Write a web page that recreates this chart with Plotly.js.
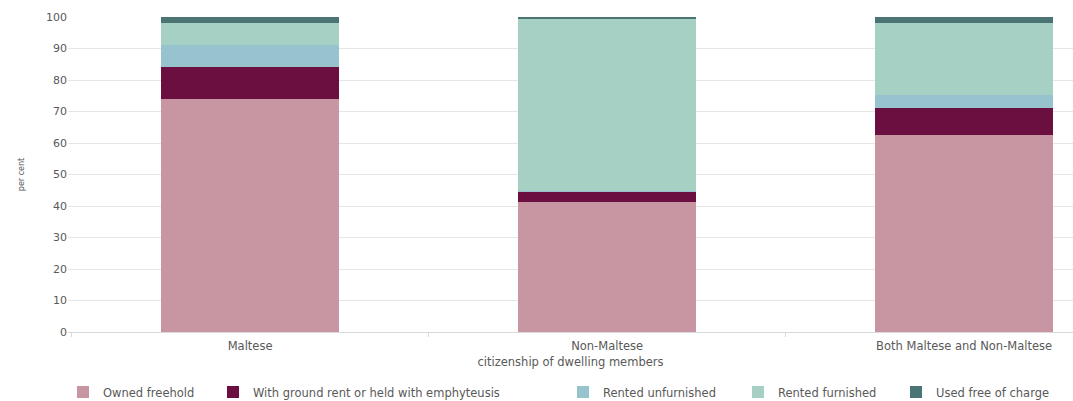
<!DOCTYPE html>
<html><head><meta charset="utf-8">
<script src="https://cdn.plot.ly/plotly-3.0.1.min.js"></script>
<style>html,body{margin:0;padding:0;background:#fff}#c{width:1073px;height:401px}</style>
</head><body><div id="c"></div>
<script>
const categories = ["Maltese", "Non-Maltese", "Both Maltese and Non-Maltese"];
const seriesNames = ["Owned freehold", "With ground rent or held with emphyteusis", "Rented unfurnished", "Rented furnished", "Used free of charge"];
const ownedFreehold = [74.0, 41.3, 62.4];
const groundRent = [10.2, 3.1, 8.8];
const rentedUnfurnished = [6.9, 0.3, 3.9];
const rentedFurnished = [6.9, 54.6, 23.0];
const usedFree = [2.0, 0.7, 1.9];
const yTicks = [0, 10, 20, 30, 40, 50, 60, 70, 80, 90, 100];

const values = [ownedFreehold, groundRent, rentedUnfurnished, rentedFurnished, usedFree];
const colors = ["#C896A3", "#6B0F40", "#96C3CD", "#A6D0C4", "#4B7474"];
const legendNames = ["legend", "legend2", "legend3", "legend4", "legend5"];
const legendX = [63, 213, 563, 738, 896];

const FONT = "DejaVu Sans, sans-serif";
const traces = values.map((v, i) => ({
  type: "bar", x: categories, y: v, name: seriesNames[i],
  marker: {color: colors[i], line: {width: 0}},
  width: 0.5, legend: legendNames[i], hoverinfo: "y+name"
}));

const layout = {
  width: 1073, height: 401,
  margin: {l: 68, r: 0, t: 17, b: 69},
  barmode: "stack",
  paper_bgcolor: "#fff", plot_bgcolor: "#fff",
  font: {family: FONT, size: 11, color: "#595959"},
  xaxis: {
    range: [-0.51, 2.305], showgrid: false, automargin: false,
    showline: true, linecolor: "#d9d9d9", linewidth: 1,
    ticks: "outside", tickson: "boundaries", ticklen: 4, tickcolor: "#d9d9d9",
    ticklabelstandoff: 3,
    tickfont: {family: FONT, size: 11.5, color: "#595959"},
    title: {text: "citizenship of dwelling members", font: {family: FONT, size: 11.5, color: "#595959"}, standoff: 6}
  },
  yaxis: {
    range: [0, 100], tickvals: yTicks, showgrid: true, gridcolor: "#e6e6e6", gridwidth: 1,
    zeroline: false, showline: false, ticks: "", automargin: false,
    tickfont: {family: FONT, size: 11, color: "#595959"},
    title: {text: "per cent", font: {family: FONT, size: 8, color: "#595959"}, standoff: 20}
  },
  showlegend: true
};
legendNames.forEach((ln, i) => {
  layout[ln] = {
    orientation: "h", x: (legendX[i] - 68) / 1005, xanchor: "left", xref: "plot",
    y: 9 / 401, yanchor: "middle", yref: "container",
    font: {family: FONT, size: 11.5, color: "#595959"},
    bgcolor: "rgba(0,0,0,0)", itemwidth: 30, tracegroupgap: 0
  };
});
Plotly.newPlot("c", traces, layout, {displayModeBar: false, staticPlot: true});
</script></body></html>
